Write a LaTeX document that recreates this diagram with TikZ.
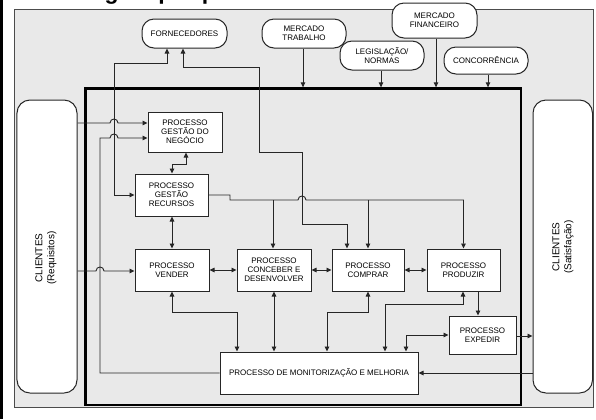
\documentclass[tikz,border=0pt]{standalone}
\usepackage{fontspec}
\setmainfont{Liberation Sans}
\usetikzlibrary{arrows.meta,calc}
\definecolor{panelgray}{RGB}{233,233,233}
\begin{document}
\begin{tikzpicture}[x=1bp,y=-1bp,
  conn/.style={draw=black!85, line width=0.9bp},
  arr/.style={conn,-{Triangle[length=5bp,width=4.5bp]}},
  dbl/.style={conn,{Triangle[length=5bp,width=4.5bp]}-{Triangle[length=5bp,width=4.5bp]}},
  proc/.style={draw=black!85, line width=1bp, fill=white, inner sep=0pt, align=center, font=\fontsize{8bp}{9.2bp}\selectfont},
  ext/.style={proc, rounded corners=12bp},
  cli/.style={draw=black!85, line width=1bp, fill=white, rounded corners=13bp, inner sep=0pt},
  clitext/.style={rotate=90, align=center, inner sep=0pt, font=\fontsize{10bp}{12bp}\selectfont}
]
\useasboundingbox (0,0) rectangle (596,419);
\fill[black] (0,0) rectangle (2.7,419);
\draw[draw=black!70, line width=0.8bp, fill=panelgray] (14.5,9.5) rectangle (593,407.5);
\node[anchor=base west, inner sep=0pt, font=\bfseries\fontsize{23bp}{23bp}\selectfont] (title) at (24,-0.5) {Abordagem por processos};

% inner frame
\node[draw=black, line width=2.3bp, minimum width=435.5bp, minimum height=316.5bp, inner sep=0pt] (frame) at (303.25,246.75) {};

% clients
\node[cli, minimum width=60bp, minimum height=293bp] (cliL) at (47,246.5) {};
\node[cli, minimum width=59.5bp, minimum height=293bp] (cliR) at (562.75,246.5) {};
\node[clitext] (tL) at (46,258) {CLIENTES\\(Requisitos)};
\node[clitext] (tR) at (563,247) {CLIENTES\\(Satisfação)};

% external
\node[ext, minimum width=85bp, minimum height=29bp] (forn) at (184.5,33.5) {FORNECEDORES};
\node[ext, minimum width=84bp, minimum height=29bp] (mtrab) at (304,33.5) {MERCADO\\TRABALHO};
\node[ext, minimum width=84bp, minimum height=29bp] (legis) at (382,55.5) {LEGISLAÇÃO/\\NORMAS};
\node[ext, minimum width=85bp, minimum height=35bp] (mfin) at (434.5,20.5) {MERCADO\\FINANCEIRO};
\node[ext, minimum width=84bp, minimum height=27bp] (concor) at (486,60.5) {CONCORRÊNCIA};

% processes
\node[proc, minimum width=74bp, minimum height=40bp] (gn) at (185,132) {PROCESSO\\GESTÃO DO\\NEGÓCIO};
\node[proc, minimum width=73bp, minimum height=42bp] (gr) at (171.5,195) {PROCESSO\\GESTÃO\\RECURSOS};
\node[proc, minimum width=74bp, minimum height=42bp] (vend) at (172,270) {PROCESSO\\VENDER};
\node[proc, minimum width=74bp, minimum height=42bp] (conc) at (274,270) {PROCESSO\\CONCEBER E\\DESENVOLVER};
\node[proc, minimum width=72bp, minimum height=42bp] (comp) at (368,270) {PROCESSO\\COMPRAR};
\node[proc, minimum width=73bp, minimum height=42bp] (prod) at (463.5,270) {PROCESSO\\PRODUZIR};
\node[proc, minimum width=67bp, minimum height=38bp] (expd) at (482.5,335) {PROCESSO\\EXPEDIR};
\node[proc, minimum width=198bp, minimum height=42bp] (mon) at (319,373) {PROCESSO DE MONITORIZAÇÃO E MELHORIA};

% top influences
\draw[arr] (mtrab.south -| 303,0) -- (frame.north -| 303,0);
\draw[arr] (legis.south -| 381,0) -- (frame.north -| 381,0);
\draw[arr] (mfin.south -| 436,0) -- (frame.north -| 436,0);
\draw[arr] (concor.south -| 488,0) -- (frame.north -| 488,0);

% connectors
\draw[arr] (cliL.east |- 0,123) -- (110,123) .. controls (110,117.7) and (118,117.7) .. (118,123) -- (gn.west |- 0,123);
\draw[arr] (mon.west) -- (100,373) -- (100,138) -- (110,138) .. controls (110,132.7) and (118,132.7) .. (118,138) -- (gn.west |- 0,138);
\draw[dbl] (gr.west) -- (114,195) -- (114,63) -- (167,63) -- (forn.south -| 167,0);
\draw[dbl] (comp.north -| 347,0) -- (347,224) -- (302,224) -- (302,152) -- (259,152) -- (259,67) -- (183,67) -- (forn.south -| 183,0);
\draw[dbl] (gn.south -| 186,0) -- (186,164) -- (172,164) -- (gr.north -| 172,0);
\draw[arr] (gr.east) -- (230,195) -- (230,200) -- (298,200) .. controls (298,194.7) and (306,194.7) .. (306,200) -- (463.5,200) -- (prod.north);
\draw[arr] (273,200) -- (conc.north -| 273,0);
\draw[arr] (368,200) -- (comp.north);
\draw[dbl] (gr.south -| vend.north) -- (vend.north);
\draw[arr] (cliL.east |- 0,271) -- (96,271) .. controls (96,265.7) and (104,265.7) .. (104,271) -- (vend.west |- 0,271);
\draw[dbl] (vend.east) -- (conc.west);
\draw[dbl] (conc.east) -- (comp.west);
\draw[dbl] (comp.east) -- (prod.west);
\draw[dbl] (vend.south) -- (172,312) -- (237,312) -- (mon.north -| 237,0);
\draw[dbl] (conc.south) -- (mon.north -| conc.south);
\draw[dbl] (comp.south) -- (368,312) -- (327,312) -- (mon.north -| 327,0);
\draw[dbl] (prod.south -| 463,0) -- (463,304) -- (385,304) -- (mon.north -| 385,0);
\draw[arr] (prod.south -| 478,0) -- (expd.north -| 478,0);
\draw[dbl] (expd.west) -- (406,335) -- (mon.north -| 406,0);
\draw[arr] (expd.east |- 0,336) -- (cliR.west |- 0,336);
\draw[arr] (cliR.west |- 0,373) -- (mon.east |- 0,373);
\end{tikzpicture}
\end{document}
